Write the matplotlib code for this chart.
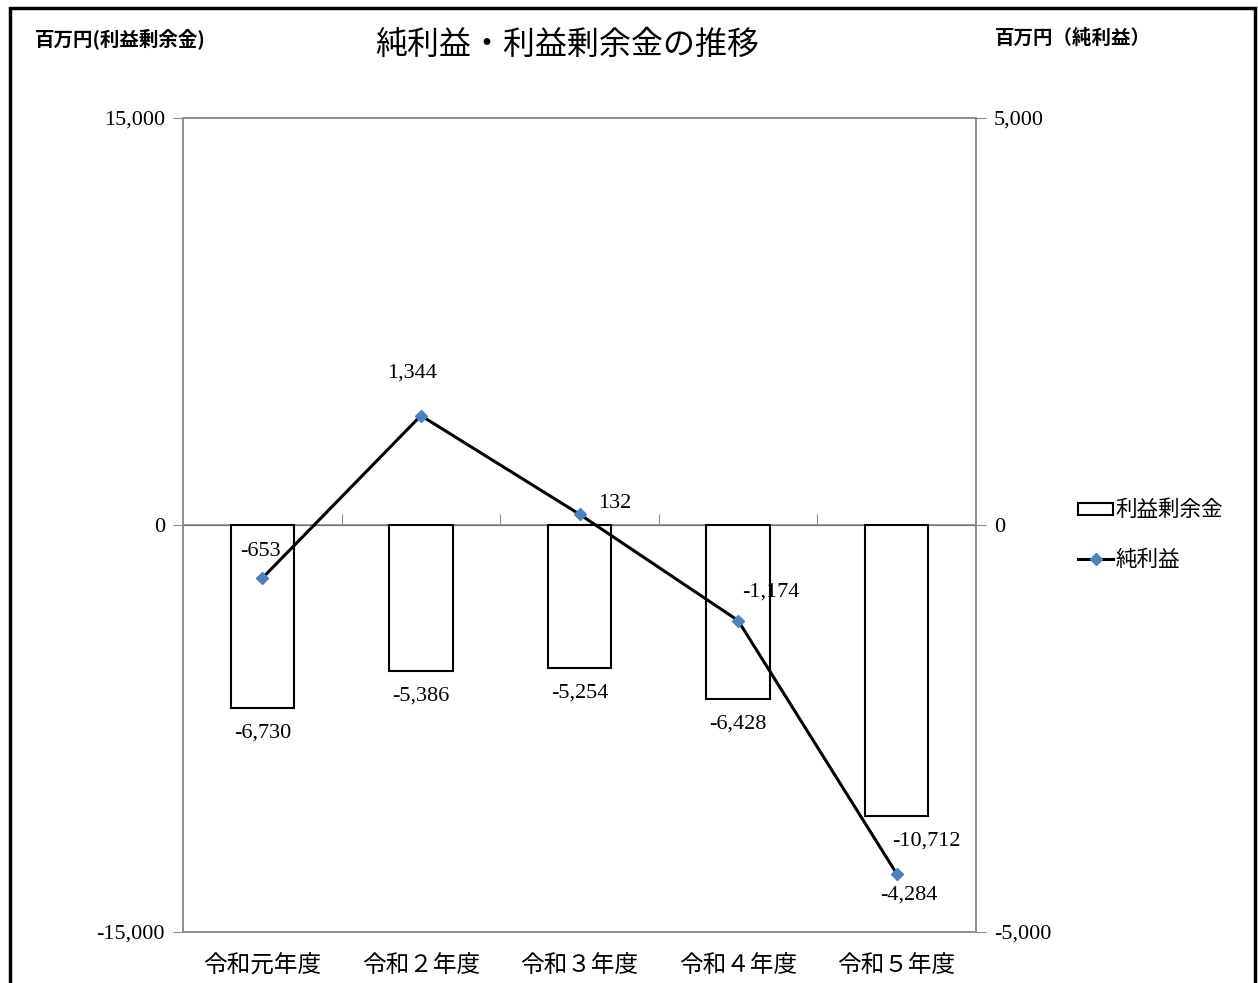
import matplotlib.pyplot as plt
from matplotlib.patches import Rectangle
from matplotlib.lines import Line2D
from matplotlib.ticker import FuncFormatter

plt.rcParams['font.family'] = ['Liberation Serif', 'Noto Sans CJK JP', 'DejaVu Sans']
plt.rcParams['axes.unicode_minus'] = False

JP = ['Noto Sans CJK JP', 'DejaVu Sans']

years = ['令和元年度', '令和２年度', '令和３年度', '令和４年度', '令和５年度']
retained = [-6730, -5386, -5254, -6428, -10712]   # 利益剰余金
net_income = [-653, 1344, 132, -1174, -4284]       # 純利益

# label offsets in pixels (dx, dy)
bar_offsets = [(0, -25), (0, -25), (0, -25), (0, -25), (30, -25)]
line_offsets = [(-2, 27), (-9, 43), (35, 11), (33, 29), (12, -21)]

W, H = 1258, 983
fig = plt.figure(figsize=(W / 100, H / 100), dpi=100)
ax = fig.add_axes([183 / W, 1 - 932 / H, (976 - 183) / W, (932 - 118) / H])
ax2 = ax.twinx()

x = list(range(len(years)))
grey = '#8c8c8c'
num_size = 16

ax.bar(x, retained, width=0.4, facecolor='white', edgecolor='black', linewidth=1.5, zorder=2)
ax.axhline(0, color=grey, linewidth=1.2, zorder=1)
ax2.plot(x, net_income, color='black', linewidth=2.2, marker='D', markersize=6,
         markerfacecolor='#4f81bd', markeredgecolor='#4f81bd', zorder=3)

ax.set_xlim(-0.5, len(years) - 0.5)
ax.set_ylim(-15000, 15000)
ax2.set_ylim(-5000, 5000)
ax.set_yticks([-15000, 0, 15000])
ax2.set_yticks([-5000, 0, 5000])
fmt = FuncFormatter(lambda v, p: f'{int(v):,}')
ax.yaxis.set_major_formatter(fmt)
ax2.yaxis.set_major_formatter(fmt)

for a in (ax, ax2):
    for s in a.spines.values():
        s.set_color(grey)
        s.set_linewidth(1.2)
    a.tick_params(axis='y', length=7, color=grey, labelsize=num_size, pad=6)

ax.set_xticks(x)
ax.set_xticklabels(years, fontfamily=JP, fontsize=17)
ax.tick_params(axis='x', length=0, pad=16)

# category boundary ticks on the zero line
sec = ax.secondary_xaxis(0.5)
sec.set_xticks([i + 0.5 for i in x[:-1]])
sec.set_xticklabels([])
sec.tick_params(axis='x', length=8, color=grey, direction='out')
sec.spines['bottom'].set_visible(False)

px = 0.72
for i, v in enumerate(retained):
    dx, dy = bar_offsets[i]
    ax.annotate(f'{v:,}', (i, v), xytext=(dx * px, dy * px), textcoords='offset points',
                ha='center', va='center', fontsize=num_size, zorder=5)
for i, v in enumerate(net_income):
    dx, dy = line_offsets[i]
    ax2.annotate(f'{v:,}', (i, v), xytext=(dx * px, dy * px), textcoords='offset points',
                 ha='center', va='center', fontsize=num_size, zorder=5)

fig.text(567 / W, 1 - 45 / H, '純利益・利益剰余金の推移', fontfamily=JP, fontsize=23,
         ha='center', va='center')
fig.text(35 / W, 1 - 40 / H, '百万円(利益剰余金)', fontfamily=JP, fontsize=14,
         fontweight='bold', ha='left', va='center')
fig.text(995 / W, 1 - 38 / H, '百万円（純利益）', fontfamily=JP, fontsize=14,
         fontweight='bold', ha='left', va='center')

handles = [Rectangle((0, 0), 1, 1, facecolor='white', edgecolor='black', linewidth=1.5),
           Line2D([], [], color='black', linewidth=2.2, marker='D', markersize=6,
                  markerfacecolor='#4f81bd', markeredgecolor='#4f81bd')]
fig.legend(handles, ['利益剰余金', '純利益'], loc='upper left',
           bbox_to_anchor=(1059 / W, 1 - 480 / H), frameon=False,
           prop={'family': JP, 'size': 15.5}, handlelength=1.6, handletextpad=0.1,
           handleheight=0.5, labelspacing=1.3)

fig.add_artist(Rectangle((10 / W, -0.1), (1255 - 10) / W, 1.1 - 8 / H,
                         transform=fig.transFigure, fill=False, edgecolor='black',
                         linewidth=2.5, clip_on=False))

fig.savefig('out.png', dpi=100)
